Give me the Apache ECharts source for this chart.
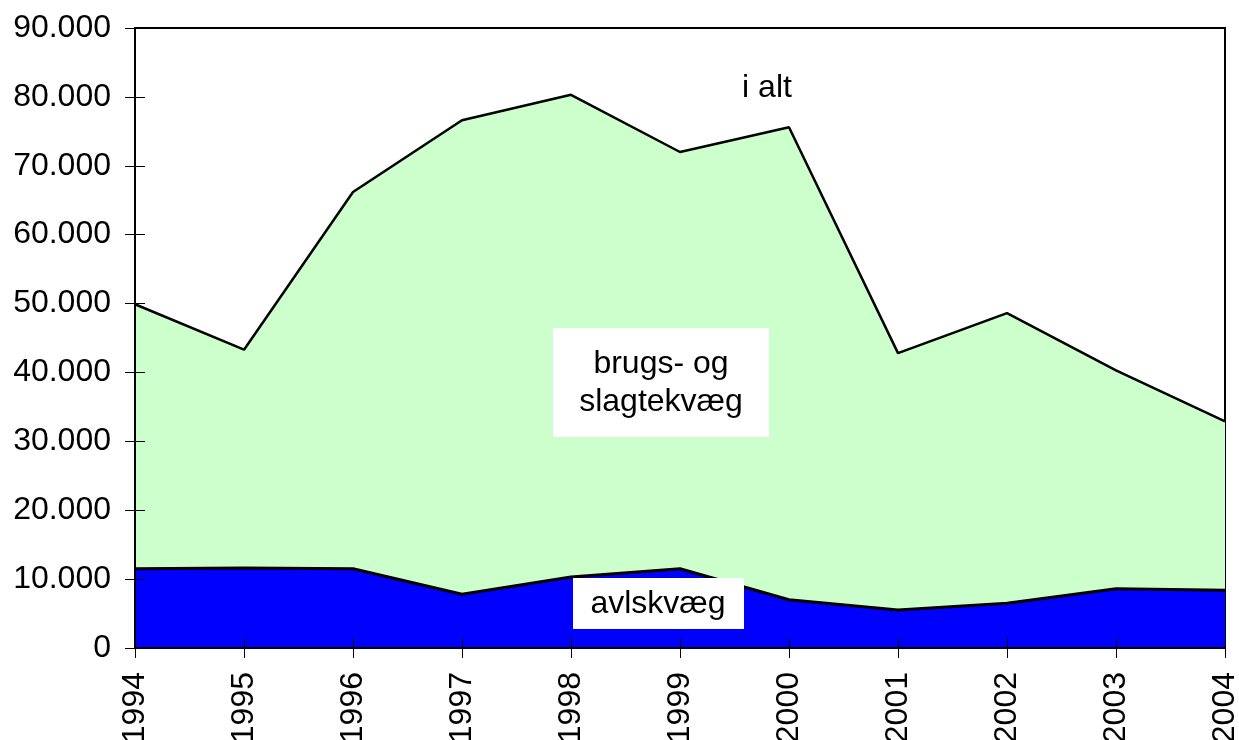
<!DOCTYPE html>
<html>
<head>
<meta charset="utf-8">
<script src="https://cdn.jsdelivr.net/npm/echarts@6/dist/echarts.min.js"></script>
<style>
  html, body { margin: 0; padding: 0; background: #fff; }
  #main { width: 1239px; height: 740px; }
</style>
</head>
<body>
<div id="main"></div>
<script>
// data
const years = ["1994", "1995", "1996", "1997", "1998", "1999", "2000", "2001", "2002", "2003", "2004"];
const iAlt = [49900, 43300, 66200, 76600, 80300, 72000, 75600, 42800, 48600, 40300, 32900];
const avlskvaeg = [11500, 11600, 11500, 7800, 10300, 11500, 7000, 5500, 6500, 8600, 8400];
const yTicks = [0, 10000, 20000, 30000, 40000, 50000, 60000, 70000, 80000, 90000];

// brugs- og slagtekvæg = i alt - avlskvæg
const brugs = iAlt.map((v, i) => v - avlskvaeg[i]);

const font = "Liberation Sans, Arial, sans-serif";

function fmt(v) {
  if (v === 0) return "0";
  return (v / 1000) + ".000";
}

const myChart = echarts.init(document.getElementById("main"));

const option = {
  animation: false,
  grid: {
    left: 135,
    right: 14,
    top: 28,
    bottom: 92,
    outerBoundsMode: "none",
    containLabel: false,
    show: true,
    borderColor: "#000",
    borderWidth: 2,
    backgroundColor: "transparent",
  },
  xAxis: [
    {
      type: "category",
      data: years,
      boundaryGap: false,
      axisLine: { lineStyle: { color: "#000", width: 2 } },
      axisTick: { show: true, length: 10, lineStyle: { color: "#000", width: 1 } },
      axisLabel: {
        rotate: 90,
        margin: 24,
        color: "#000",
        fontFamily: font,
        fontSize: 32,
        interval: 0,
      },
      z: 10,
    },
    {
      type: "category",
      data: years,
      boundaryGap: false,
      position: "bottom",
      axisLine: { show: false },
      axisTick: { show: true, inside: true, length: 10, lineStyle: { color: "#000", width: 1 } },
      axisLabel: { show: false },
      z: 10,
    },
  ],
  yAxis: [
    {
      type: "value",
      min: yTicks[0],
      max: yTicks[yTicks.length - 1],
      interval: 10000,
      axisLine: { show: true, lineStyle: { color: "#000", width: 2 } },
      axisTick: { show: true, length: 10, lineStyle: { color: "#000", width: 1 } },
      splitLine: { show: false },
      axisLabel: {
        margin: 24,
        color: "#000",
        fontFamily: font,
        fontSize: 32,
        formatter: fmt,
      },
      z: 10,
    },
    {
      type: "value",
      min: yTicks[0],
      max: yTicks[yTicks.length - 1],
      interval: 10000,
      position: "left",
      axisLine: { show: false },
      axisTick: { show: true, inside: true, length: 10, lineStyle: { color: "#000", width: 1 } },
      splitLine: { show: false },
      axisLabel: { show: false },
      z: 10,
    },
  ],
  series: [
    {
      name: "avlskvæg",
      type: "line",
      stack: "x",
      data: avlskvaeg,
      symbol: "none",
      lineStyle: { color: "#000", width: 3 },
      areaStyle: { color: "#0000ff", opacity: 1 },
      z: 4,
    },
    {
      name: "brugs- og slagtekvæg",
      type: "line",
      stack: "x",
      data: brugs,
      symbol: "none",
      lineStyle: { color: "#000", width: 2.5 },
      areaStyle: { color: "#ccffcc", opacity: 1 },
      z: 3,
    },
  ],
  graphic: [
    {
      type: "text",
      z: 20,
      style: { x: 767, y: 88, text: "i alt", fill: "#000", font: "32px " + font, align: "center", verticalAlign: "middle" },
    },
    {
      type: "rect",
      z: 20,
      shape: { x: 553, y: 328, width: 216, height: 109 },
      style: { fill: "#fff" },
    },
    {
      type: "text",
      z: 21,
      style: {
        x: 661,
        y: 383,
        text: "brugs- og\nslagtekvæg",
        fill: "#000",
        font: "32px " + font,
        align: "center",
        verticalAlign: "middle",
        lineHeight: 38,
      },
    },
    {
      type: "rect",
      z: 20,
      shape: { x: 573, y: 578, width: 171, height: 51 },
      style: { fill: "#fff" },
    },
    {
      type: "text",
      z: 21,
      style: {
        x: 658,
        y: 604,
        text: "avlskvæg",
        fill: "#000",
        font: "32px " + font,
        align: "center",
        verticalAlign: "middle",
      },
    },
  ],
};

myChart.setOption(option);
</script>
</body>
</html>
